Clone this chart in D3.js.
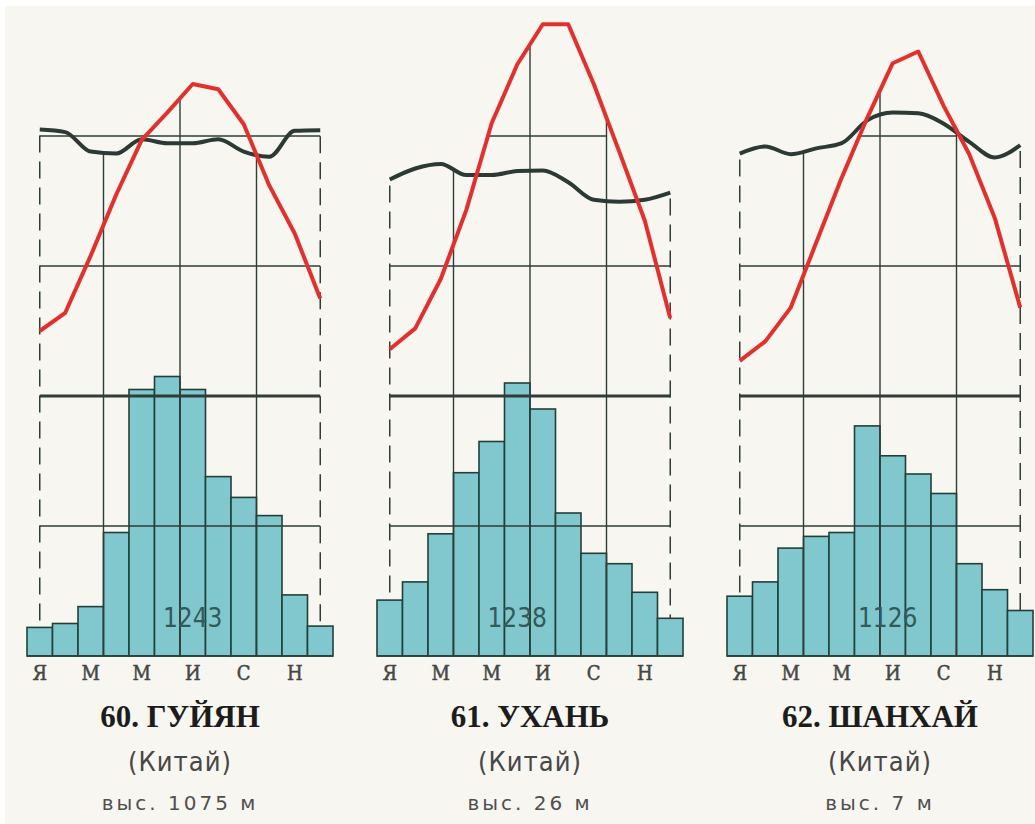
<!DOCTYPE html>
<meta charset="utf-8">
<style>
body { margin: 0; background: #fff; }
svg { display: block; }
.month { font-family: "DejaVu Serif Condensed", "DejaVu Serif", serif; font-size: 20px; fill: #454745; stroke: #454745; stroke-width: 0.5px; }
.title { font-family: "Liberation Serif", serif; font-weight: bold; font-size: 31px; fill: #1c1c1c; }
.country { font-family: "DejaVu Sans Condensed", "DejaVu Sans", sans-serif; font-size: 27px; fill: #474747; letter-spacing: 1px; }
.alt { font-family: "DejaVu Sans", sans-serif; font-size: 20px; fill: #4f4f4f; letter-spacing: 3px; }
.total { font-family: "DejaVu Sans Condensed", "DejaVu Sans", sans-serif; font-size: 26px; fill: #34595a; }
</style>
<body>
<script src="https://d3js.org/d3.v7.min.js"></script>
<script>
'use strict';

// month initials, only odd months are labelled under the bars
const months = ["Я", "Ф", "М", "А", "М", "И", "И", "А", "С", "О", "Н", "Д"];
const labelledMonths = [0, 2, 4, 6, 8, 10];

const stationNames = ["60. ГУЙЯН", "61. УХАНЬ", "62. ШАНХАЙ"];
const countries = ["(Китай)", "(Китай)", "(Китай)"];
const altitudes = ["выс. 1075 м", "выс. 26 м", "выс. 7 м"];
const annualPrecip = [1243, 1238, 1126];

// precipitation, mm
const precipGuiyang  = [22, 25, 38, 95, 205, 215, 205, 138, 122, 108, 47, 23];
const precipWuhan    = [43, 57, 94, 141, 165, 210, 190, 110, 79, 71, 49, 29];
const precipShanghai = [46, 57, 83, 92, 95, 177, 154, 140, 125, 71, 51, 35];

// mean temperature, °C
const tempGuiyang  = [5.0, 6.4, 10.8, 15.5, 19.7, 21.8, 24.0, 23.6, 20.9, 16.2, 12.5, 7.5];
const tempWuhan    = [3.6, 5.2, 9.0, 14.3, 21.0, 25.5, 28.6, 28.6, 24.0, 18.8, 13.5, 6.0];
const tempShanghai = [2.7, 4.2, 6.8, 11.8, 16.8, 21.4, 25.6, 26.5, 22.3, 18.6, 13.7, 6.8];

// relative humidity, %
const humGuiyang  = [81.0, 80.6, 77.6, 77.3, 79.5, 78.9, 78.9, 79.5, 77.6, 76.8, 80.8, 80.9];
const humWuhan    = [73.3, 75.0, 75.7, 74.0, 74.0, 74.6, 74.7, 72.9, 70.2, 69.9, 70.2, 71.3];
const humShanghai = [77.3, 78.4, 77.2, 78.1, 78.9, 82.4, 83.6, 83.5, 81.9, 79.1, 76.7, 78.6];

// where the total is written (month position) and whether the 20° line runs full width
const totalAt = [6.5, 5.5, 6.3];
const fullTopLine = [true, false, false];

const stations = stationNames.map((name, i) => ({
  name: name,
  country: countries[i],
  alt: altitudes[i],
  total: annualPrecip[i],
  precip: [precipGuiyang, precipWuhan, precipShanghai][i],
  temp: [tempGuiyang, tempWuhan, tempShanghai][i],
  hum: [humGuiyang, humWuhan, humShanghai][i],
  totalAt: totalAt[i],
  fullTop: fullTopLine[i]
}));

const width = 1035, height = 824, panelStep = 350;
const base = 656, plotTop = 6;

const x = d3.scaleBand().domain(d3.range(12)).range([27, 333]);
const cx = i => x(i) + x.bandwidth() / 2;
const precipY = d3.scaleLinear().domain([0, 500]).range([base, plotTop]);
const tempY = d3.scaleLinear().domain([-20, 30]).range([base, plotTop]);
const humY = d3.scaleLinear().domain([0, 100]).range([base, plotTop]);

const gridColor = "#2e3d37";

const svg = d3.select("body").append("svg")
    .attr("width", width)
    .attr("height", height);

svg.append("rect")
    .attr("x", 5).attr("y", 6)
    .attr("width", width - 5).attr("height", height - 6)
    .attr("fill", "#f8f6f0");

const panel = svg.selectAll(".panel")
    .data(stations)
  .enter().append("g")
    .attr("class", "panel")
    .attr("transform", (d, i) => "translate(" + (i * panelStep) + ",0)");

// dashed end lines (behind the bars)
panel.each(function(d) {
  const g = d3.select(this);
  [0, 11].forEach(m => {
    g.append("line")
        .attr("x1", cx(m)).attr("x2", cx(m))
        .attr("y1", humY(d.hum[m]) + 6).attr("y2", base)
        .attr("stroke", gridColor)
        .attr("stroke-width", 1.5)
        .attr("stroke-dasharray", "17,9");
  });
});

// precipitation bars
panel.selectAll(".bar")
    .data(d => d.precip)
  .enter().append("rect")
    .attr("class", "bar")
    .attr("x", (v, i) => x(i))
    .attr("y", v => precipY(v))
    .attr("width", x.bandwidth())
    .attr("height", v => base - precipY(v))
    .attr("fill", "#80c7ce")
    .attr("stroke", "#22403a")
    .attr("stroke-width", 1.6);

// value at a month boundary, between month k-1 and k
const atEdge = (arr, k) => (arr[k - 1] + arr[k]) / 2;

panel.each(function(d) {
  const g = d3.select(this);
  const hline = (yy, w, x1, x2) => g.append("line")
      .attr("x1", x1 === undefined ? cx(0) : x1)
      .attr("x2", x2 === undefined ? cx(11) : x2)
      .attr("y1", yy).attr("y2", yy)
      .attr("stroke", gridColor)
      .attr("stroke-width", w);

  hline(precipY(100), 1.4);
  hline(tempY(10), 1.4);

  // 20° line
  if (d.fullTop) {
    hline(tempY(20), 1.4);
  } else {
    const up = d.temp.findIndex(t => t >= 20);
    const x1 = cx(up - 1) + (20 - d.temp[up - 1]) / (d.temp[up] - d.temp[up - 1]) * x.bandwidth();
    let dn = up;
    while (dn < 11 && d.temp[dn + 1] >= 20) dn++;
    const xFall = cx(dn) + (d.temp[dn] - 20) / (d.temp[dn] - d.temp[dn + 1]) * x.bandwidth();
    hline(tempY(20), 1.4, x1, Math.min(xFall, x(9)));
  }

  // vertical lines at season boundaries
  [3, 6, 9].forEach(k => {
    const yTop = Math.min(tempY(atEdge(d.temp, k)), humY(atEdge(d.hum, k)));
    g.append("line")
        .attr("x1", x(k)).attr("x2", x(k))
        .attr("y1", yTop).attr("y2", base)
        .attr("stroke", gridColor)
        .attr("stroke-width", 1.4);
  });

  // thick line: 200 mm / 0°
  hline(precipY(200), 3.2);

  g.append("line")
      .attr("x1", x(0)).attr("x2", x(11) + x.bandwidth())
      .attr("y1", base).attr("y2", base)
      .attr("stroke", "#22403a")
      .attr("stroke-width", 1.6);

  // humidity curve
  g.append("path")
      .datum(d.hum)
      .attr("fill", "none")
      .attr("stroke", "#2b3a34")
      .attr("stroke-width", 4)
      .attr("stroke-linejoin", "round")
      .attr("d", d3.line()
          .x((v, i) => cx(i))
          .y(v => humY(v))
          .curve(d3.curveMonotoneX));

  // temperature curve
  g.append("path")
      .datum(d.temp)
      .attr("fill", "none")
      .attr("stroke", "#e2302d")
      .attr("stroke-width", 4)
      .attr("stroke-linejoin", "round")
      .attr("d", d3.line()
          .x((v, i) => cx(i))
          .y(v => tempY(v)));

  // annual total
  g.append("text")
      .attr("class", "total")
      .attr("x", x(0) + d.totalAt * x.bandwidth())
      .attr("y", 627)
      .attr("text-anchor", "middle")
      .text(d.total);

  // month initials
  g.selectAll(".month")
      .data(labelledMonths)
    .enter().append("text")
      .attr("class", "month")
      .attr("x", m => cx(m))
      .attr("y", 680)
      .attr("text-anchor", "middle")
      .text(m => months[m]);

  const mid = (x(0) + x(11) + x.bandwidth()) / 2;
  g.append("text").attr("class", "title")
      .attr("x", mid).attr("y", 727)
      .attr("text-anchor", "middle")
      .text(d.name);
  g.append("text").attr("class", "country")
      .attr("x", mid).attr("y", 771)
      .attr("text-anchor", "middle")
      .text(d.country);
  g.append("text").attr("class", "alt")
      .attr("x", mid).attr("y", 810)
      .attr("text-anchor", "middle")
      .text(d.alt);
});
</script>
